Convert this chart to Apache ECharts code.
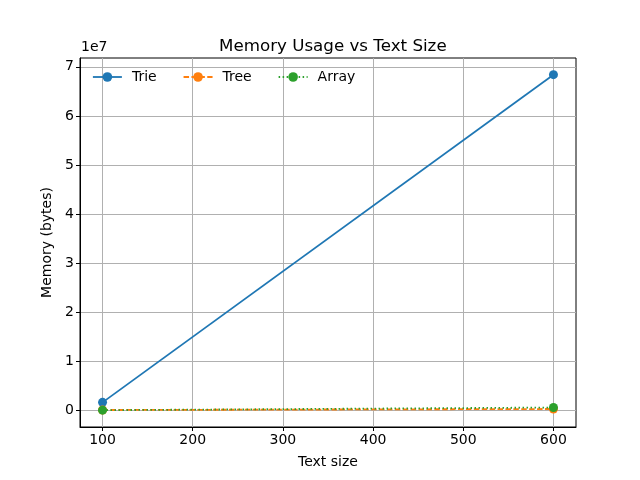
<!DOCTYPE html>
<html>
<head>
<meta charset="utf-8">
<script src="https://cdn.jsdelivr.net/npm/echarts@6/dist/echarts.min.js"></script>
<style>
  html, body { margin: 0; padding: 0; background: #fff; }
  #chart { width: 640px; height: 480px; }
</style>
</head>
<body>
<div id="chart"></div>
<script>
// values
var textSizes = [100, 600];
var trieMem = [1.6e6, 6.84e7];
var treeMem = [4e4, 2.5e5];
var arrayMem = [1e4, 5.5e5];
var xTicks = [100, 200, 300, 400, 500, 600];
var yTicks = [0, 1e7, 2e7, 3e7, 4e7, 5e7, 6e7, 7e7];

var FONT = 'DejaVu Sans';

function pairs(ys) {
    return textSizes.map(function (x, i) { return [x, ys[i]]; });
}

var chart = echarts.init(document.getElementById('chart'));

var option = {
    animation: false,
    textStyle: { fontFamily: FONT },
    title: {
        text: 'Memory Usage vs Text Size',
        left: 214, top: 33,
        textStyle: { fontFamily: FONT, fontSize: 16.7, fontWeight: 'normal', color: '#000' }
    },
    legend: {
        left: 92, top: 70, padding: 0,
        itemWidth: 29, itemHeight: 12, itemGap: 26,
        lineStyle: { width: 1.8 },
        textStyle: { fontFamily: FONT, fontSize: 14, color: '#000', padding: [0, 0, 0, 5] },
        data: ['Trie', 'Tree', 'Array']
    },
    grid: {
        left: 80, right: 64, top: 58, bottom: 53,
        show: true, borderColor: '#000', borderWidth: 1, backgroundColor: 'transparent'
    },
    xAxis: {
        type: 'value', min: 75, max: 625,
        name: 'Text size', nameLocation: 'middle', nameGap: 28,
        nameTextStyle: { fontFamily: FONT, fontSize: 14, color: '#000' },
        axisLine: { show: true, onZero: false, lineStyle: { color: '#000' } },
        axisTick: { show: true, length: 4, customValues: xTicks, lineStyle: { color: '#000' } },
        axisLabel: { customValues: xTicks, fontFamily: FONT, fontSize: 14, color: '#000', margin: 6 },
        splitLine: { show: true, lineStyle: { color: '#b0b0b0', width: 1 } }
    },
    yAxis: {
        type: 'value', min: -3.42e6, max: 7.18e7,
        name: 'Memory (bytes)', nameLocation: 'middle', nameGap: 25, nameRotate: 90,
        nameTextStyle: { fontFamily: FONT, fontSize: 14, color: '#000' },
        axisLine: { show: true, onZero: false, lineStyle: { color: '#000' } },
        axisTick: { show: true, length: 4, customValues: yTicks, lineStyle: { color: '#000' } },
        axisLabel: {
            customValues: yTicks, fontFamily: FONT, fontSize: 14, color: '#000', margin: 6,
            formatter: function (v) { return String(Math.round(v / 1e7)); }
        },
        splitLine: { show: true, lineStyle: { color: '#b0b0b0', width: 1 } }
    },
    graphic: [{
        type: 'text', left: 81, top: 40,
        style: { text: '1e7', fontFamily: FONT, fontSize: 14, fill: '#000' }
    }],
    series: [
        {
            name: 'Trie', type: 'line', data: pairs(trieMem),
            symbol: 'circle', symbolSize: 9, color: '#1f77b4',
            lineStyle: { width: 1.8, color: '#1f77b4' }, itemStyle: { color: '#1f77b4' }, z: 2
        },
        {
            name: 'Tree', type: 'line', data: pairs(treeMem),
            symbol: 'circle', symbolSize: 9, color: '#ff7f0e',
            lineStyle: { width: 1.8, color: '#ff7f0e', type: [5.5, 2.4] }, itemStyle: { color: '#ff7f0e' }, z: 3
        },
        {
            name: 'Array', type: 'line', data: pairs(arrayMem),
            symbol: 'circle', symbolSize: 9, color: '#2ca02c',
            lineStyle: { width: 1.8, color: '#2ca02c', type: [1.5, 2.5] }, itemStyle: { color: '#2ca02c' }, z: 4
        }
    ]
};

chart.setOption(option);
</script>
</body>
</html>
